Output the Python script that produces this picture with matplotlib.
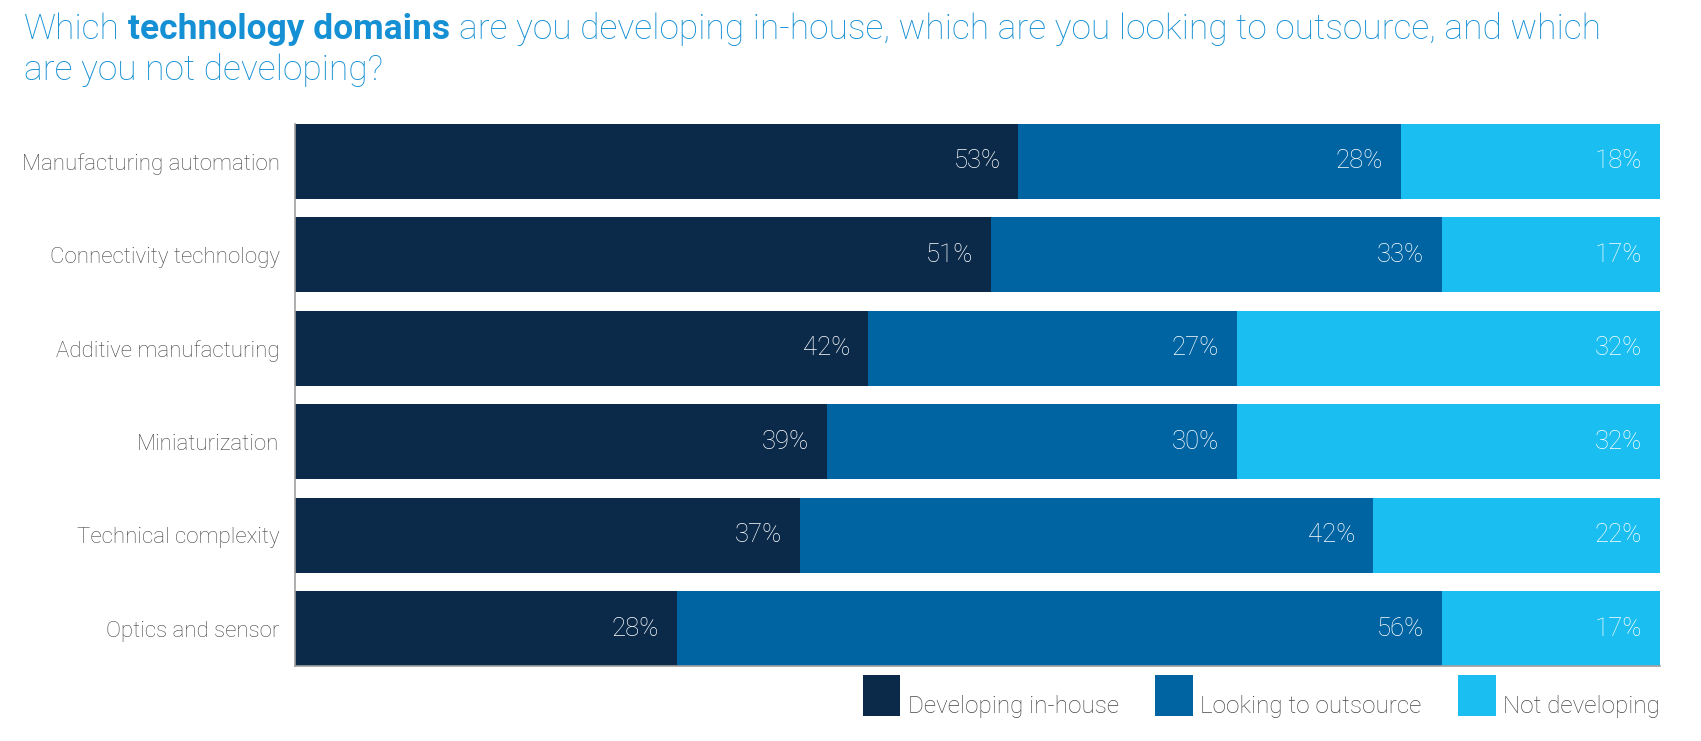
import matplotlib
matplotlib.use("Agg")
import matplotlib.pyplot as plt
from matplotlib.patches import Patch, Rectangle
from matplotlib.legend_handler import HandlerPatch

# data
categories = ['Manufacturing automation', 'Connectivity technology', 'Additive manufacturing',
              'Miniaturization', 'Technical complexity', 'Optics and sensor']
in_house = [53, 51, 42, 39, 37, 28]
outsource = [28, 33, 27, 30, 42, 56]
not_dev = [19, 17, 32, 32, 22, 17]          # bar length as drawn
not_dev_labels = [18, 17, 32, 32, 22, 17]   # printed value
series_names = ['Developing in-house', 'Looking to outsource', 'Not developing']

colors = ['#0B2A4A', '#0064A3', '#1ABEF0']
title_blue = '#1590D4'
text_gray = '#454545'

plt.rcParams['font.family'] = ['Roboto', 'DejaVu Sans']

fig = plt.figure(figsize=(17.01, 7.41), dpi=100)
ax = fig.add_axes([295 / 1701, 75 / 741, 1365 / 1701, 542 / 741])

ypos = list(range(len(categories)))
left = [0] * len(categories)
for vals, labs, col in zip([in_house, outsource, not_dev],
                           [in_house, outsource, not_dev_labels], colors):
    ax.barh(ypos, vals, left=left, height=0.8, color=col, edgecolor='none')
    for y, l, v, lab in zip(ypos, left, vals, labs):
        end = min(l + v, 100)
        ax.annotate(f'{lab}%', xy=(end, y), xytext=(-13, 0), textcoords='offset points',
                    ha='right', va='center', color='white', fontsize=18.5, fontweight='light')
    left = [a + b for a, b in zip(left, vals)]

ax.set_xlim(0, 100)
ax.set_ylim(5.4, -0.4)
ax.set_yticks(ypos)
ax.set_yticklabels(categories, fontsize=16, color=text_gray, fontweight='light')
ax.tick_params(axis='y', length=0, pad=11)
ax.set_xticks([])
for s in ['top', 'right']:
    ax.spines[s].set_visible(False)
for s in ['left', 'bottom']:
    ax.spines[s].set_color('#A0A0A0')
    ax.spines[s].set_linewidth(1.2)

# title with a bold part in the middle
renderer = fig.canvas.get_renderer()
title_parts = [('Which ', 'light'), ('technology domains', 'bold'),
               (' are you developing in-house, which are you looking to outsource, and which', 'light')]
title_size = 25.5


def text_width(s, weight):
    t = fig.text(0, 0, s, fontsize=title_size, fontweight=weight)
    w = t.get_window_extent(renderer).width
    t.remove()
    return w


x_px = 24
for s, w in title_parts:
    lead = text_width('a' + s[0] + 'a', w) - text_width('aa', w) if s.startswith(' ') else 0
    trail = text_width('a' + s[-1] + 'a', w) - text_width('aa', w) if s.endswith(' ') else 0
    fig.text((x_px + lead) / 1701, 1 - 39 / 741, s.strip(), fontsize=title_size, fontweight=w,
             color=title_blue, va='baseline', ha='left')
    x_px += lead + text_width(s.strip(), w) + trail

fig.text(24 / 1701, 1 - 80 / 741, 'are you not developing?', fontsize=title_size,
         fontweight='light', color=title_blue, va='baseline', ha='left')


# legend boxes sit with their bottom just under the text baseline
def raised_box(legend, orig_handle, xdescent, ydescent, width, height, fontsize):
    return Rectangle((-xdescent, -ydescent + 0.41 * fontsize), width, height)


handles = [Patch(facecolor=c, edgecolor='none') for c in colors]
leg = fig.legend(handles, series_names, loc='upper right',
                 bbox_to_anchor=(1660 / 1701, 1 - 685 / 741), ncol=3, frameon=False,
                 fontsize=17.5, handlelength=1.55, handleheight=2.22, handletextpad=0.3,
                 columnspacing=1.5, borderpad=0, borderaxespad=0,
                 handler_map={Patch: HandlerPatch(patch_func=raised_box)})
for t in leg.get_texts():
    t.set_color(text_gray)
    t.set_fontweight('light')

fig.savefig('out.png', dpi=100)
